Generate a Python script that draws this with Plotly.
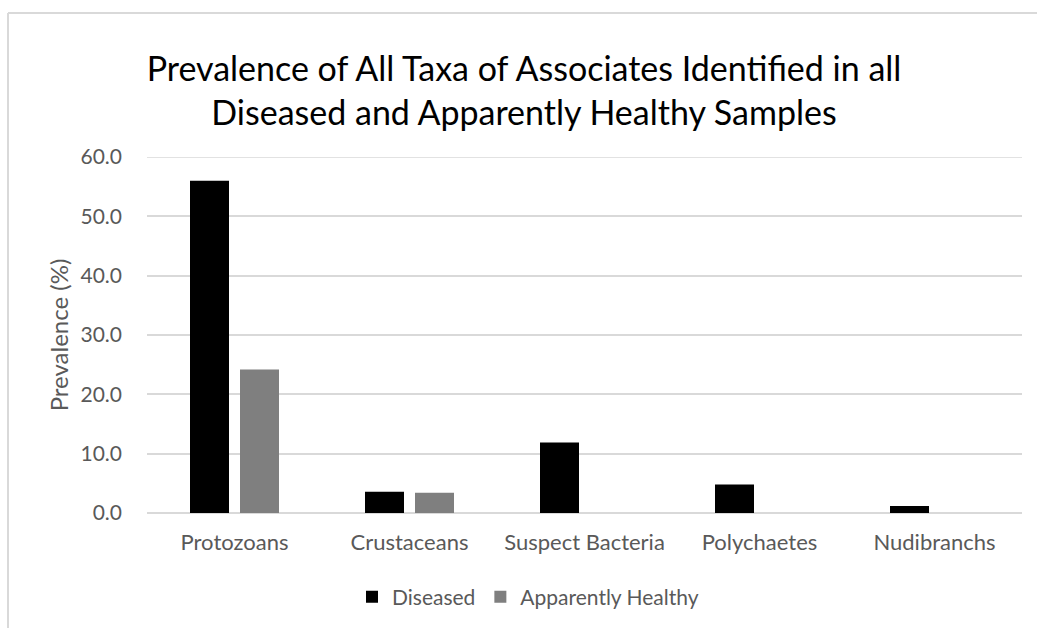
import plotly.graph_objects as go

# Prevalence (%) of each associate taxon by sample condition
categories = ["Protozoans", "Crustaceans", "Suspect Bacteria", "Polychaetes", "Nudibranchs"]
diseased = [56.0, 3.6, 11.9, 4.8, 1.2]
apparently_healthy = [24.2, 3.4, 0.0, 0.0, 0.0]
y_ticks = [0, 10, 20, 30, 40, 50, 60]

FONT = "Lato"
W, H = 1037, 628
ML, MR, MT, MB = 147, 15, 157, 115

fig = go.Figure()
fig.add_trace(go.Bar(x=categories, y=diseased, name="Diseased",
                     marker=dict(color="#000000", line=dict(width=0))))
fig.add_trace(go.Bar(x=categories, y=apparently_healthy, name="Apparently Healthy",
                     marker=dict(color="#7f7f7f", line=dict(width=0))))

# outer chart frame (left and top edges)
pw, ph = W - ML - MR, H - MT - MB
def px(x):
    return (x - ML) / pw
def py(y):
    return (H - MB - y) / ph
fig.add_shape(type="line", xref="paper", yref="paper",
              x0=px(8), x1=px(1040), y0=py(13), y1=py(13),
              line=dict(color="#d9d9d9", width=2))
fig.add_shape(type="line", xref="paper", yref="paper",
              x0=px(8), x1=px(8), y0=py(13), y1=py(640),
              line=dict(color="#d9d9d9", width=2))
# gridline at the top of the value range
fig.add_shape(type="line", xref="paper", yref="y", layer="below",
              x0=0, x1=1, y0=y_ticks[-1], y1=y_ticks[-1],
              line=dict(color="#d9d9d9", width=1.5))

fig.update_layout(
    width=W, height=H,
    margin=dict(l=ML, r=MR, t=MT, b=MB),
    paper_bgcolor="white", plot_bgcolor="white",
    barmode="group", bargap=0.4286, bargroupgap=0.22,
    title=dict(
        text="Prevalence of All Taxa of Associates Identified in all<br>Diseased and Apparently Healthy Samples",
        x=524 / W, xanchor="center", xref="container",
        y=1 - 81 / H, yanchor="top",
        font=dict(family=FONT, size=34, color="#000000"),
    ),
    font=dict(family=FONT, color="#595959"),
    legend=dict(orientation="h", x=528 / W, xanchor="center", xref="container",
                y=1 - 597 / H, yanchor="middle", yref="container",
                font=dict(family=FONT, size=21, color="#595959"),
                itemwidth=30, tracegroupgap=0),
    showlegend=True,
)
fig.update_xaxes(showgrid=False, showline=False, ticks="", ticklabelstandoff=14,
                 tickfont=dict(family=FONT, size=22, color="#595959"))
fig.update_yaxes(range=[0, 60], tickvals=y_ticks, tickformat=".1f",
                 showgrid=True, gridcolor="#d9d9d9", gridwidth=1.5,
                 zeroline=True, zerolinecolor="#d9d9d9", zerolinewidth=1.5,
                 showline=False, ticks="", ticklabelstandoff=24,
                 tickfont=dict(family=FONT, size=21, color="#595959"),
                 title=dict(text="Prevalence (%)", standoff=5,
                            font=dict(family=FONT, size=24, color="#595959")))

fig.write_html("out.html")
